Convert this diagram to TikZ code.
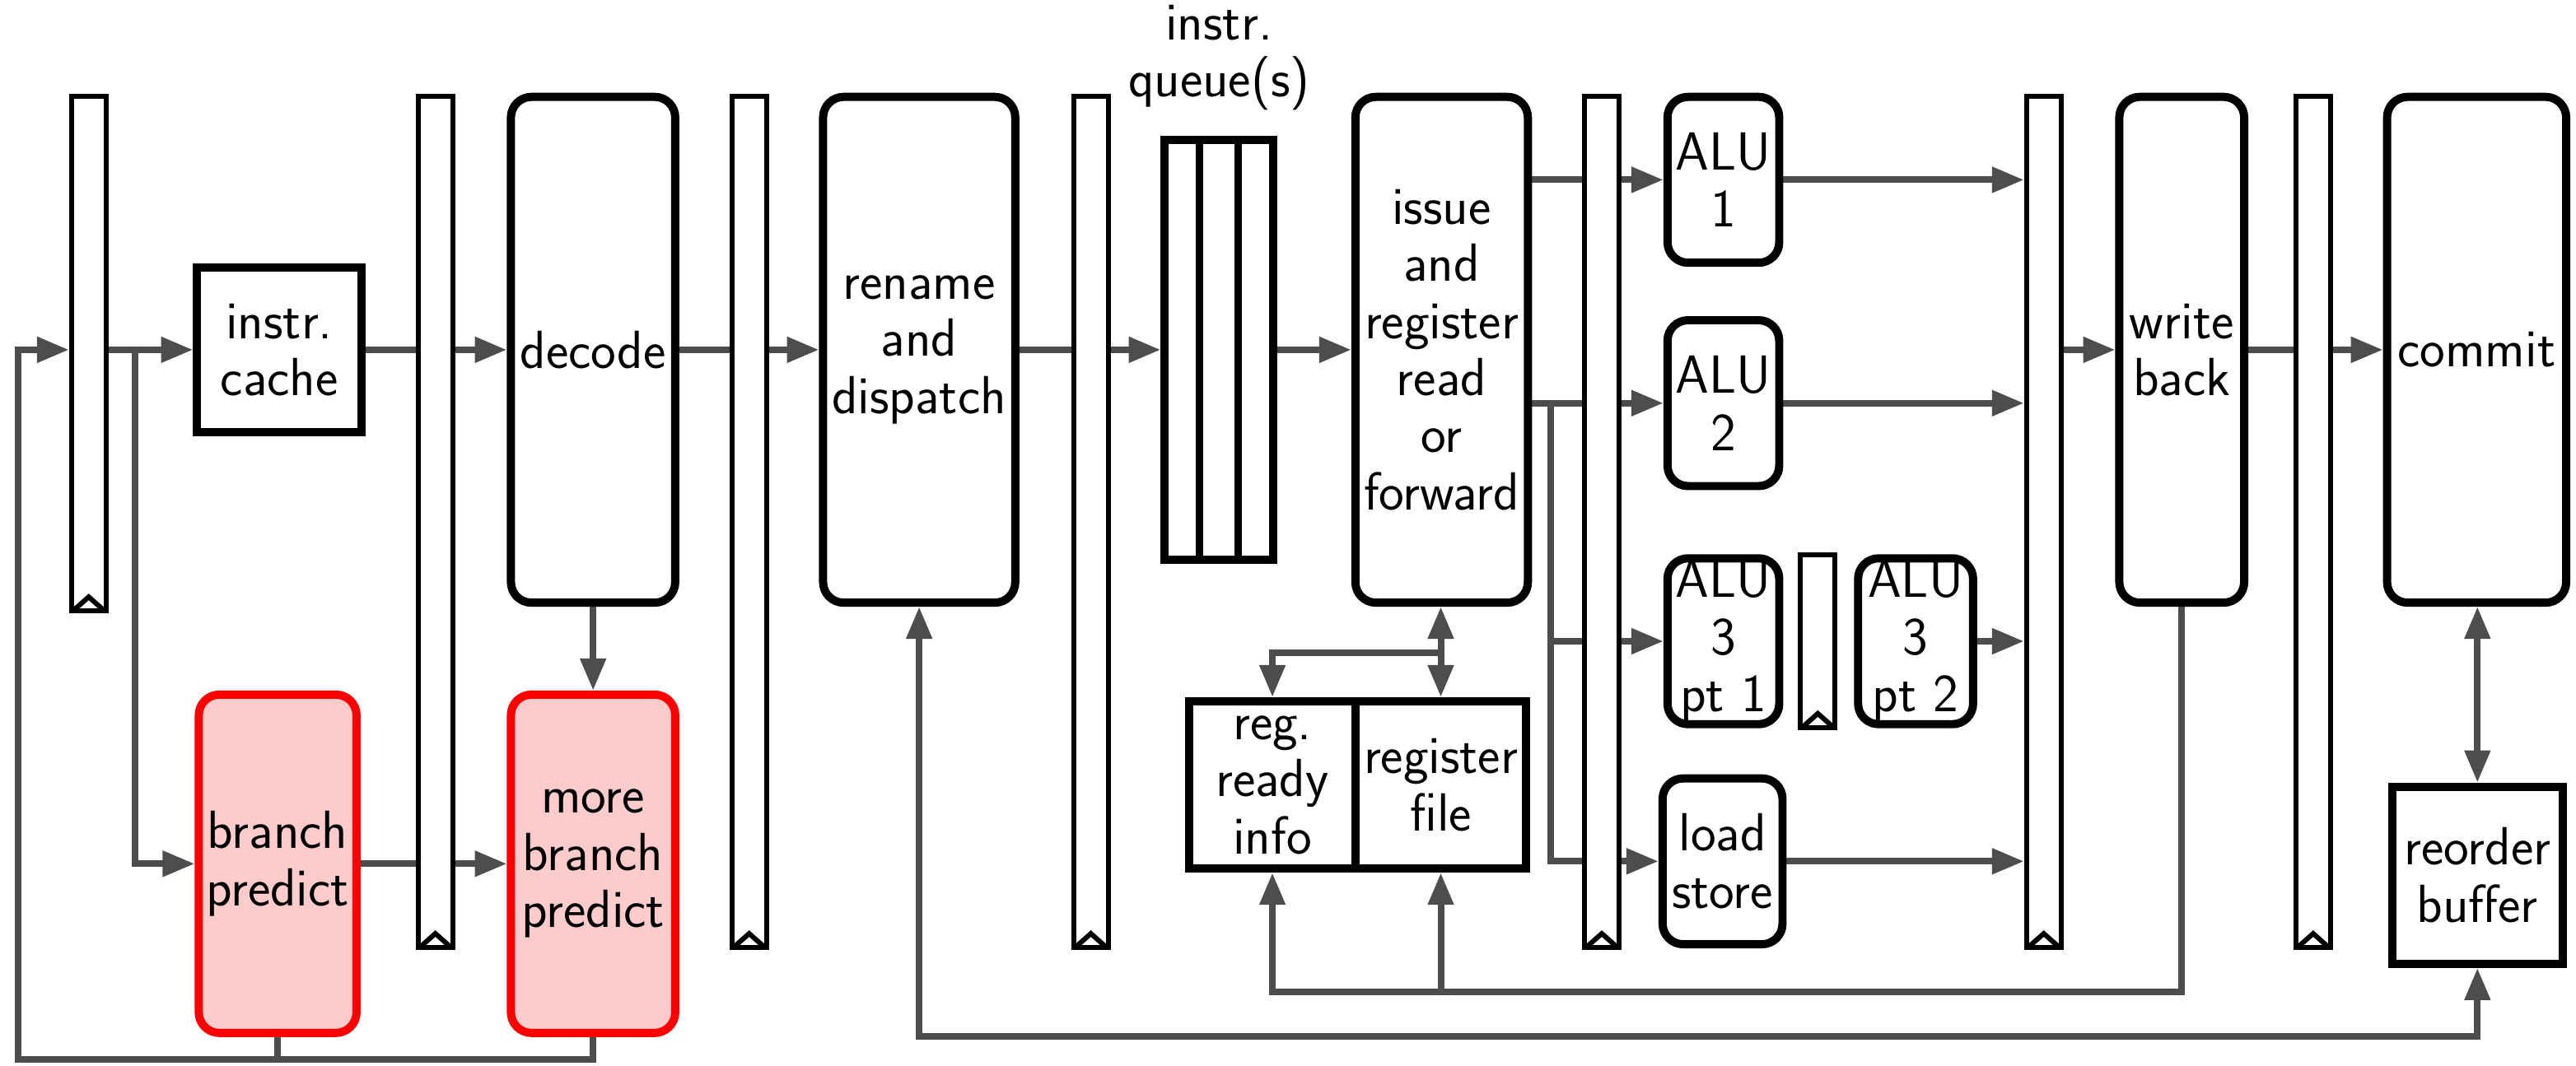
\documentclass[tikz,border=0pt]{standalone}
\usepackage{fontspec}
\usetikzlibrary{arrows.meta,calc}
\pgfdeclarelayer{bg}
\pgfsetlayers{bg,main}
\definecolor{cgray}{RGB}{77,77,77}
\definecolor{bpfill}{RGB}{252,204,204}
\tikzset{
  every node/.style={font=\fontsize{18.6}{19.8}\selectfont\sffamily, align=center},
  blk/.style={draw=black, line width=1mm, fill=white, inner sep=0pt},
  rblk/.style={blk, rounded corners=2.5mm},
  redblk/.style={rblk, draw=red, fill=bpfill, line width=1mm},
  latchbox/.style={draw=black, line width=0.6mm, fill=white, inner sep=0pt},
  latchtri/.style={draw=black, line width=0.6mm},
  wire/.style={draw=cgray, line width=0.8mm},
  conn/.style={wire, -{Stealth[inset=0pt,length=3.9mm,width=3mm]}},
  dconn/.style={wire, {Stealth[inset=0pt,length=3.9mm,width=3mm]}-{Stealth[inset=0pt,length=3.9mm,width=3mm]}},
}
% name, style, x1, y1, x2, y2, text
\newcommand\mkbox[7]{%
  \node[#2, minimum width={(#5-#3)*0.2mm}, minimum height={(#6-#4)*0.2mm}] (#1) at ({(#3+#5)/2},{(#4+#6)/2}) {#7};}
% name, x1, y1, x2, y2
\newcommand\mklatch[5]{%
  \node[latchbox, minimum width={(#4-#2)*0.2mm}, minimum height={(#5-#3)*0.2mm}] (#1) at ({(#2+#4)/2},{(#3+#5)/2}) {};
  \draw[latchtri] ($(#1.south west)+(2.4,-1.5)$) -- ($(#1.south)+(0,-10)$) -- ($(#1.south east)+(-2.4,-1.5)$);}
\begin{document}
\begin{tikzpicture}[x=0.2mm, y=-0.2mm]
\useasboundingbox (0,0) rectangle (1568,649);

% latches
\mklatch{L1}{43.5}{58.5}{64.5}{372}
\mklatch{L2}{254.5}{58.5}{275.5}{577}
\mklatch{L3}{445.5}{58.5}{466.5}{577}
\mklatch{L4}{653.5}{58.5}{674.5}{577}
\mklatch{L5}{964.5}{58.5}{985.5}{577}
\mklatch{L6}{1233.5}{58.5}{1254.5}{577}
\mklatch{L7}{1397.5}{58.5}{1418.5}{577}
\mklatch{L8}{1096}{338}{1117}{443}

% boxes
\mkbox{cache}{blk}{120}{163}{220}{263}{instr.\\cache}
\mkbox{decode}{rblk}{311}{59}{411}{367}{decode}
\mkbox{rename}{rblk}{501}{59}{618}{367}{rename\\and\\dispatch}
\mkbox{queue}{blk}{709}{85}{775}{341}{}
\draw[line width=0.9mm] ($(queue.north west)!1/3!(queue.north east)$) -- ($(queue.south west)!1/3!(queue.south east)$);
\draw[line width=0.9mm] ($(queue.north west)!2/3!(queue.north east)$) -- ($(queue.south west)!2/3!(queue.south east)$);
\node (qlabel) at (742,35) {instr.\\queue(s)};
\mkbox{issue}{rblk}{825}{59}{930}{367}{issue\\and\\register\\read\\or\\forward}
\mkbox{alu1}{rblk}{1015}{59}{1083}{160}{ALU\\1}
\mkbox{alu2}{rblk}{1015}{195}{1083}{296}{ALU\\2}
\mkbox{alu3a}{rblk}{1015}{340}{1083}{441}{ALU\\3\\pt 1}
\mkbox{alu3b}{rblk}{1131}{340}{1201}{441}{ALU\\3\\pt 2}
\mkbox{ls}{rblk}{1012}{474}{1085}{575}{load\\store}
\mkbox{wb}{rblk}{1290}{59}{1366}{367}{write\\back}
\mkbox{commit}{rblk}{1453}{59}{1562}{367}{commit}
\mkbox{rob}{blk}{1456}{479}{1560}{587}{reorder\\buffer}
\mkbox{rri}{blk}{724}{427}{825}{529}{reg.\\ready\\info}
\mkbox{rf}{blk}{825}{427}{929}{529}{register\\file}
\mkbox{bp}{redblk}{121}{423}{217}{629}{branch\\predict}
\mkbox{mbp}{redblk}{311}{423}{411}{629}{more\\branch\\predict}

\begin{pgfonlayer}{bg}
  \coordinate (fb) at (11,645);
  \coordinate (j1) at (82,213);
  \coordinate (j2) at (944,245.5);
  \coordinate (j3) at (877,397.5);
  \coordinate (wbb) at (774.5,604);
  % fetch / branch prediction loop
  \draw[conn] (mbp.south) |- (fb) |- (L1.west |- decode);
  \draw[wire] (bp.south) -- (bp.south |- fb);
  \draw[conn] (L1.east |- decode) -- (cache);
  \draw[conn] (j1) |- (bp);
  \draw[conn] (cache) -- (decode);
  \draw[conn] (bp) -- (mbp);
  \draw[conn] (decode) -- (mbp);
  % main pipeline
  \draw[conn] (decode) -- (rename);
  \draw[conn] (rename) -- (queue);
  \draw[conn] (queue) -- (issue);
  \draw[conn] (issue.east |- alu1) -- (alu1);
  \draw[conn] (issue.east |- alu2) -- (alu2);
  \draw[conn] (j2) |- (alu3a);
  \draw[conn] (j2) |- (ls);
  \draw[conn] (alu1) -- (L6.west |- alu1);
  \draw[conn] (alu2) -- (L6.west |- alu2);
  \draw[conn] (alu3b) -- (L6.west |- alu3b);
  \draw[conn] (ls) -- (L6.west |- ls);
  \draw[conn] (L6.east |- wb) -- (wb);
  \draw[conn] (wb) -- (commit);
  \draw[dconn] (rob.north |- commit.south) -- (rob.north);
  % register file
  \draw[dconn] (rf.north |- issue.south) -- (rf.north);
  \draw[conn] (j3) -| (rri);
  \draw[conn] (wb.south) |- (wbb) -- (rri.south);
  \draw[conn] (rf.south |- wbb) -- (rf.south);
  % rename / reorder buffer bus
  \draw[dconn] (rename.south) -- (rename.south |- 0,631) -- (rob.south |- 0,631) -- (rob.south);
\end{pgfonlayer}
\end{tikzpicture}
\end{document}
